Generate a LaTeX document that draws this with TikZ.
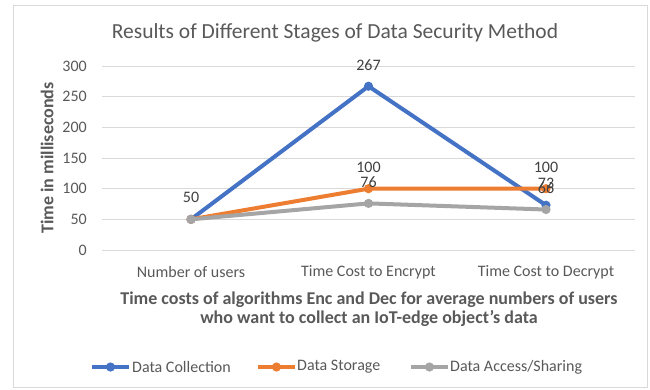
\documentclass[tikz,border=0pt]{standalone}
\usepackage{fontspec}
\setmainfont{Carlito}
\usetikzlibrary{calc}
\definecolor{txtgray}{HTML}{595959}
\definecolor{lblgray}{HTML}{404040}
\definecolor{gridgray}{HTML}{D9D9D9}
\definecolor{sblue}{HTML}{4472C4}
\definecolor{sorange}{HTML}{ED7D31}
\definecolor{sgray}{HTML}{A5A5A5}
\tikzset{
  gridline/.style={draw=gridgray, line width=1pt},
  series/.style={line width=4pt, line join=round, line cap=round},
  marker/.style={fill=#1, draw=none},
  ticklbl/.style={text=txtgray, font=\fontsize{16}{18}\selectfont, anchor=east, inner sep=0pt},
  catlbl/.style={text=txtgray, font=\fontsize{16}{18}\selectfont, inner sep=0pt},
  datalbl/.style={text=lblgray, font=\fontsize{16}{18}\selectfont, inner sep=0pt},
  axtitle/.style={text=txtgray, font=\bfseries\fontsize{18}{19.5}\selectfont, inner sep=0pt, align=center},
  legendlbl/.style={text=txtgray, font=\fontsize{16}{18}\selectfont, anchor=west, inner sep=0pt},
}
\begin{document}
\begin{tikzpicture}[x=1pt, y=-1pt]
  \useasboundingbox (0,0) rectangle (650,389);
  \fill[white] (0,0) rectangle (650,389);
  % chart frame
  \draw[gridgray, line width=1pt] (13,5) rectangle (647,387);

  % title
  \node[text=txtgray, font=\fontsize{21.5}{24}\selectfont, inner sep=0pt] (title) at (335,33) {Results of Different Stages of Data Security Method};

  % value axis: gridlines and tick labels (0..300, 30.67px per 50)
  \foreach \v in {0,50,...,300} {
    \pgfmathsetmacro{\yy}{250-\v*0.61333}
    \draw[gridline] (102,\yy) -- (635,\yy);
    \node[ticklbl] at (87,\yy) {\v};
  }
  \node[axtitle, rotate=90] (ytitle) at (47,158) {Time in milliseconds};

  % category positions
  \def\ya#1{250-#1*0.61333}
  \coordinate (b1) at (191,{\ya{50}});
  \coordinate (b2) at (368.5,{\ya{267}});
  \coordinate (b3) at (546,{\ya{73}});
  \coordinate (o1) at (191,{\ya{50}});
  \coordinate (o2) at (368.5,{\ya{100}});
  \coordinate (o3) at (546,{\ya{100}});
  \coordinate (g1) at (191,{\ya{50}});
  \coordinate (g2) at (368.5,{\ya{76}});
  \coordinate (g3) at (546,{\ya{66}});

  % series
  \draw[series, sblue] (b1) -- (b2) -- (b3);
  \foreach \p in {b1,b2,b3} \fill[marker=sblue] (\p) circle (4.6);
  \draw[series, sorange] (o1) -- (o2) -- (o3);
  \foreach \p in {o1,o2,o3} \fill[marker=sorange] (\p) circle (4.6);
  \draw[series, sgray] (g1) -- (g2) -- (g3);
  \foreach \p in {g1,g2,g3} \fill[marker=sgray] (\p) circle (4.6);

  % data labels
  \node[datalbl] (l50) at ($(g1)+(0,-21.5)$) {50};
  \node[datalbl] (l267) at ($(b2)+(0,-21.5)$) {267};
  \node[datalbl] (l100a) at ($(o2)+(0,-21.5)$) {100};
  \node[datalbl] (l76) at ($(g2)+(0,-21.5)$) {76};
  \node[datalbl] (l100b) at ($(o3)+(0,-21.5)$) {100};
  \node[datalbl] (l73) at ($(b3)+(0,-21.5)$) {73};
  \node[datalbl] (l66) at ($(g3)+(0,-21.5)$) {66};

  % category labels
  \node[catlbl] (c1) at (191,272) {Number of users};
  \node[catlbl] (c2) at (368.5,272) {Time Cost to Encrypt};
  \node[catlbl] (c3) at (546,272) {Time Cost to Decrypt};

  % category axis title
  \node[axtitle] (xtitle) at (369,309) {Time costs of algorithms Enc and Dec for average numbers of users\\who want to collect an IoT-edge object’s data};

  % legend
  \coordinate (k1a) at (92,367); \coordinate (k1b) at (129,367);
  \draw[series, sblue, line cap=butt] (k1a) -- (k1b);
  \fill[marker=sblue] ($(k1a)!0.5!(k1b)$) circle (4.6);
  \node[legendlbl] (lg1) at (132,367) {Data Collection};
  \coordinate (k2a) at (258,367); \coordinate (k2b) at (295,367);
  \draw[series, sorange, line cap=butt] (k2a) -- (k2b);
  \fill[marker=sorange] ($(k2a)!0.5!(k2b)$) circle (4.6);
  \node[legendlbl] (lg2) at (297,367) {Data Storage};
  \coordinate (k3a) at (411,367); \coordinate (k3b) at (448,367);
  \draw[series, sgray, line cap=butt] (k3a) -- (k3b);
  \fill[marker=sgray] ($(k3a)!0.5!(k3b)$) circle (4.6);
  \node[legendlbl] (lg3) at (450,367) {Data Access/Sharing};
\end{tikzpicture}
\end{document}
